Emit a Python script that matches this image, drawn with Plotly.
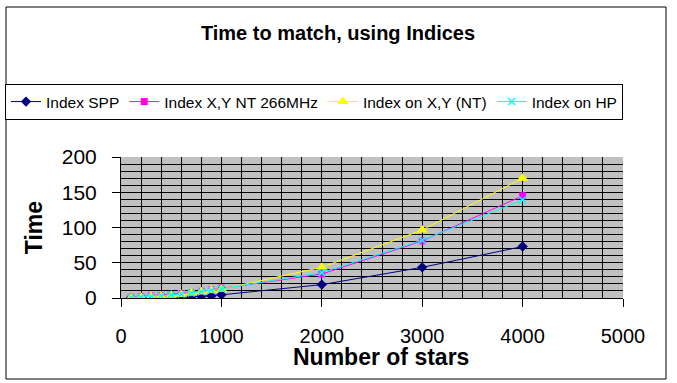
import plotly.graph_objects as go

stars = [100, 200, 300, 400, 500, 600, 700, 800, 900, 1000, 2000, 3000, 4000]
index_spp = [0.2, 0.3, 0.5, 0.8, 1.0, 1.4, 1.8, 2.4, 3.0, 4.5, 19, 43.5, 73]
index_xy_nt266 = [1.0, 2.0, 3.0, 3.5, 4.5, 6.0, 7.5, 9.5, 11.5, 14, 34, 81, 145]
index_on_xy_nt = [0.5, 1.0, 2.0, 3.0, 4.0, 5.0, 7.0, 9.0, 11.0, 12.5, 43.5, 96.5, 170]
index_on_hp = [0.8, 1.5, 2.5, 3.5, 4.5, 5.5, 7.0, 9.0, 11.0, 13, 36, 82, 139]

names = ["Index SPP", "Index X,Y NT 266MHz", "Index on X,Y (NT)", "Index on HP"]
FONT = "Arial, Liberation Sans, sans-serif"

W, H = 677, 383
L, R, T, B = 121, 623, 157, 298

fig = go.Figure()
fig.add_trace(go.Scatter(x=stars, y=index_spp, name=names[0], mode="lines+markers",
                         line=dict(color="#000080", width=1),
                         marker=dict(symbol="diamond", size=8, color="#000080")))
fig.add_trace(go.Scatter(x=stars, y=index_xy_nt266, name=names[1], mode="lines+markers",
                         line=dict(color="#FF00FF", width=1),
                         marker=dict(symbol="square", size=7, color="#FF00FF")))
fig.add_trace(go.Scatter(x=stars, y=index_on_xy_nt, name=names[2], mode="lines+markers",
                         line=dict(color="#FFFF00", width=1),
                         marker=dict(symbol="triangle-up", size=10, color="#FFFF00")))
fig.add_trace(go.Scatter(x=stars, y=index_on_hp, name=names[3], mode="lines+markers",
                         line=dict(color="#00FFFF", width=1),
                         marker=dict(symbol="x-thin", size=7, color="#00FFFF",
                                     line=dict(color="#00FFFF", width=1.5))))

fig.update_layout(
    width=W, height=H,
    margin=dict(l=L, r=W - R, t=T, b=H - B, pad=0, autoexpand=False),
    paper_bgcolor="white", plot_bgcolor="#C0C0C0",
    font=dict(family=FONT, color="black", size=20),
    title=dict(text="<b>Time to match, using Indices</b>", x=338 / W, xref="container",
               y=1 - 33 / H, yref="container", xanchor="center", yanchor="middle",
               font=dict(size=20, family=FONT, color="black")),
    legend=dict(orientation="h", xref="paper", yref="paper",
                x=(5 - L) / (R - L), y=(B - 84) / (B - T), xanchor="left", yanchor="top",
                bordercolor="black", borderwidth=1, bgcolor="white",
                font=dict(size=15.5, family=FONT, color="black")),
    showlegend=True,
)

fig.update_xaxes(range=[0, 5000], dtick=1000, tick0=0, showgrid=True, gridcolor="black", gridwidth=1,
                 minor=dict(dtick=200, showgrid=True, gridcolor="black", gridwidth=1),
                 ticks="outside", ticklen=8, tickcolor="black", tickwidth=1,
                 showline=True, linecolor="black", linewidth=1, zeroline=False,
                 ticklabelstandoff=12, tickfont=dict(size=20, family=FONT))
fig.update_yaxes(range=[0, 200], dtick=50, tick0=0, showgrid=True, gridcolor="black", gridwidth=1,
                 minor=dict(dtick=10, showgrid=True, gridcolor="black", gridwidth=1),
                 ticks="outside", ticklen=8, tickcolor="black", tickwidth=1,
                 showline=True, linecolor="black", linewidth=1, zeroline=False,
                 ticklabelstandoff=11, tickfont=dict(size=21, family=FONT),
                 title=dict(text="<b>Time</b>", font=dict(size=23, family=FONT), standoff=12))

fig.add_annotation(text="<b>Number of stars</b>", xref="paper", yref="paper",
                   x=(381 - L) / (R - L), y=(B - 357) / (B - T),
                   xanchor="center", yanchor="middle", showarrow=False,
                   font=dict(size=23, family=FONT, color="black"))

fig.add_shape(type="rect", xref="paper", yref="paper",
              x0=(6 - L) / (R - L), x1=(666 - L) / (R - L),
              y0=(B - 379) / (B - T), y1=(B - 7) / (B - T),
              line=dict(color="black", width=1), fillcolor="rgba(0,0,0,0)", layer="below")

fig.write_html("out.html", config={"displayModeBar": False},
               post_script="document.body.style.margin='0';")
